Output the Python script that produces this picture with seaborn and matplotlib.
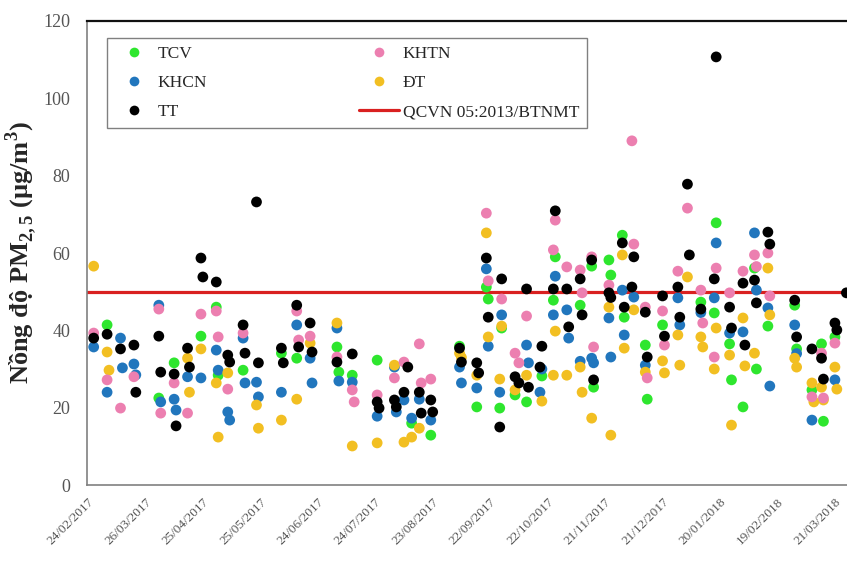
import numpy as np
import pandas as pd
import matplotlib
matplotlib.use("Agg")
import matplotlib.pyplot as plt
import matplotlib.dates as mdates
from matplotlib.lines import Line2D
import seaborn as sns

nan = np.nan

# PM2.5 by sampling day, one list per site (nan = no point that day)
dates = [
    "2017-02-27", "2017-03-06", "2017-03-07", "2017-03-13", "2017-03-14", "2017-03-20", "2017-03-21",
    "2017-04-02", "2017-04-03", "2017-04-10", "2017-04-11", "2017-04-17", "2017-04-18", "2017-04-24",
    "2017-04-25", "2017-05-02", "2017-05-03", "2017-05-08", "2017-05-09", "2017-05-16", "2017-05-17",
    "2017-05-23", "2017-05-24", "2017-06-05", "2017-06-06", "2017-06-13", "2017-06-14", "2017-06-20",
    "2017-06-21", "2017-07-04", "2017-07-05", "2017-07-12", "2017-07-13", "2017-07-25", "2017-07-26",
    "2017-08-03", "2017-08-04", "2017-08-08", "2017-08-10", "2017-08-12", "2017-08-16", "2017-08-17",
    "2017-08-22", "2017-08-23", "2017-09-06", "2017-09-07", "2017-09-15", "2017-09-16", "2017-09-20",
    "2017-09-21", "2017-09-27", "2017-09-28", "2017-10-05", "2017-10-07", "2017-10-11", "2017-10-12",
    "2017-10-18", "2017-10-19", "2017-10-25", "2017-10-26", "2017-11-01", "2017-11-02", "2017-11-08",
    "2017-11-09", "2017-11-14", "2017-11-15", "2017-11-23", "2017-11-24", "2017-11-30", "2017-12-01",
    "2017-12-05", "2017-12-06", "2017-12-12", "2017-12-13", "2017-12-21", "2017-12-22", "2017-12-29",
    "2017-12-30", "2018-01-03", "2018-01-04", "2018-01-10", "2018-01-11", "2018-01-17", "2018-01-18",
    "2018-01-25", "2018-01-26", "2018-02-01", "2018-02-02", "2018-02-07", "2018-02-08", "2018-02-14",
    "2018-02-15", "2018-02-28", "2018-03-01", "2018-03-09", "2018-03-10", "2018-03-14", "2018-03-15",
    "2018-03-21", "2018-03-22", "2018-03-27",
]
tcv = [
    nan, 41.4, nan, nan, nan, nan, nan,
    22.5, nan, 31.6, nan, nan, nan, 38.5,
    nan, 46.0, 28.4, nan, nan, 29.7, nan,
    nan, nan, 34.1, nan, 32.8, nan, nan,
    nan, 35.7, 29.2, 28.4, nan, 32.3, nan,
    nan, nan, nan, nan, 16.0, nan, nan,
    12.9, nan, 35.9, nan, 20.2, nan, 51.2,
    48.1, 19.9, 40.6, 23.3, nan, 21.5, nan,
    nan, 28.2, 47.8, 59.0, nan, nan, 46.5,
    nan, 56.6, 25.3, 58.2, 54.3, 64.6, 43.4,
    nan, nan, 36.2, 22.2, 41.4, nan, nan,
    nan, nan, nan, 47.3, nan, 44.5, 67.8,
    36.5, 27.2, 20.2, nan, 56.1, 30.0, 41.1,
    nan, 46.5, 35.2, 24.6, nan, 36.5, 16.5,
    38.3, nan, nan,
]
khcn = [
    35.7, 24.0, nan, 38.0, 30.3, 31.3, 28.5,
    46.5, 21.5, 22.2, 19.4, 28.0, nan, 27.7,
    nan, 34.9, 29.7, 18.9, 16.8, 38.0, 26.4,
    26.6, 22.8, 24.0, nan, 41.4, nan, 32.8,
    26.4, 40.6, 26.9, 26.6, nan, 17.8, nan,
    30.5, 18.9, 22.0, nan, 17.3, 22.2, nan,
    16.8, nan, 30.5, 26.4, 25.1, nan, 55.9,
    35.9, 24.0, 44.0, nan, nan, 36.2, 31.6,
    24.0, 30.0, 44.0, 54.0, 45.3, 38.0, 32.0,
    nan, 32.8, 31.6, 43.2, 33.1, 50.4, 38.8,
    nan, 48.6, 31.0, nan, nan, nan, 48.4,
    41.4, nan, nan, 44.6, nan, 48.4, 62.6,
    39.3, nan, 39.6, nan, 65.2, 50.4, 45.8,
    25.6, 41.4, 34.0, 16.8, nan, nan, nan,
    27.2, nan, nan,
]
tt = [
    38.0, 39.0, nan, 35.2, nan, 36.2, 24.0,
    38.5, 29.2, 28.7, 15.3, 35.4, 30.5, 58.7,
    53.8, 52.5, nan, 33.6, 31.8, 41.4, 34.1,
    73.2, 31.6, 35.4, 31.6, 46.5, 35.7, 41.9,
    34.4, 31.8, nan, 33.9, nan, 21.5, 19.9,
    22.0, 20.2, 24.0, 30.5, nan, 24.0, 18.6,
    22.0, 18.9, 35.4, 31.8, 31.6, 29.0, 58.7,
    43.4, 15.0, 53.3, 28.0, 26.4, 50.7, 25.3,
    30.5, 35.9, 50.7, 70.9, 50.7, 40.9, 53.3,
    44.0, 58.2, 27.2, 49.7, 48.5, 62.6, 46.0,
    51.2, 59.0, 44.7, 33.1, 48.9, 38.5, 51.2,
    43.4, 77.8, 59.5, 45.5, nan, 53.3, 110.7,
    46.0, 40.6, 52.2, 36.2, 53.0, 47.1, 65.4,
    62.3, 47.8, 38.3, 35.2, nan, 32.8, 27.4,
    41.9, 40.1, 49.7,
]
khtn = [
    39.3, 27.2, nan, 19.9, nan, 28.0, nan,
    45.5, 18.6, 26.4, nan, 18.6, nan, 44.2,
    nan, 45.0, 38.3, 24.8, nan, 39.3, nan,
    nan, nan, nan, nan, 45.0, 37.5, 38.5,
    nan, 33.1, nan, 24.6, 21.5, 23.3, nan,
    27.7, nan, 31.8, nan, nan, 36.5, 26.4,
    27.4, nan, nan, nan, nan, nan, 70.3,
    52.8, nan, 48.1, 34.1, 31.6, 43.7, nan,
    nan, nan, 60.8, 68.5, 56.4, nan, 55.6,
    49.7, 59.0, 35.7, 51.7, nan, nan, nan,
    89.0, 62.3, 46.0, 27.7, 45.0, 36.2, 55.3,
    nan, 71.6, nan, 50.4, 41.9, 33.1, 56.1,
    49.7, nan, 55.3, nan, 59.5, 56.5, 60.0,
    48.9, nan, nan, 22.8, nan, 34.1, 22.5,
    36.7, nan, nan,
]
dt = [
    56.6, 34.4, 29.7, nan, nan, nan, nan,
    nan, nan, nan, nan, 32.8, 24.0, 35.2,
    nan, 26.4, 12.4, 29.0, nan, nan, nan,
    20.7, 14.7, 16.8, nan, 22.2, nan, 36.7,
    nan, 41.9, nan, 10.1, nan, 10.9, nan,
    31.0, nan, 11.1, nan, 12.4, 14.7, nan,
    nan, nan, 34.1, 33.0, 28.4, nan, 65.2,
    38.3, 27.4, 41.1, 24.6, nan, 28.4, nan,
    nan, 21.7, 28.4, 39.8, 28.4, nan, 30.5,
    24.0, 17.3, nan, 46.0, 12.9, 59.5, 35.4,
    nan, 45.3, 29.2, nan, 32.1, 29.0, 38.8,
    31.0, 53.8, nan, 38.3, 35.7, 30.0, 40.6,
    33.6, 15.5, 43.2, 30.8, 34.1, nan, 56.1,
    44.0, 32.8, 30.5, 26.4, 21.5, 25.3, 22.0,
    30.5, 24.8, nan,
]
limit = 50
limit_label = "QCVN 05:2013/BTNMT"
tick_dates = pd.date_range("2017-02-24", periods=14, freq="30D")

sns.set_style("white")
plt.rcParams["font.family"] = ["Liberation Serif", "DejaVu Serif"]
plt.rcParams["mathtext.fontset"] = "custom"
plt.rcParams["mathtext.rm"] = "Liberation Serif"
plt.rcParams["mathtext.bf"] = "Liberation Serif:bold"

df = pd.DataFrame({"date": pd.to_datetime(dates), "TCV": tcv, "KHCN": khcn,
                   "TT": tt, "KHTN": khtn, "ĐT": dt})
# row order decides what sits on top: black last
long = df.melt(id_vars="date", value_vars=["TCV", "KHCN", "ĐT", "KHTN", "TT"],
               var_name="site", value_name="pm").dropna()

colors = {"TCV": "#2ee62e", "KHCN": "#2176bd", "TT": "#000000",
          "KHTN": "#ec7fb0", "ĐT": "#f2bf22"}
red = "#d92020"

fig = plt.figure(figsize=(8.47, 5.66), dpi=100)
ax = fig.add_axes([0.1027, 0.143, 0.9, 0.82])

ax.axhline(limit, color=red, lw=2.3, zorder=1.5)
sns.scatterplot(data=long, x="date", y="pm", hue="site", palette=colors,
                s=60, linewidth=0, legend=False, ax=ax, zorder=3)

start = pd.Timestamp("2017-02-23 12:00")
ax.set_xlim(start, start + pd.Timedelta(days=398))
ax.set_ylim(0, 120)
ax.set_yticks(range(0, 121, 20))
ax.set_xticks(tick_dates)
ax.xaxis.set_major_formatter(mdates.DateFormatter("%d/%m/%Y"))
plt.setp(ax.get_xticklabels(), rotation=45, ha="right", rotation_mode="anchor")
ax.tick_params(axis="x", length=0, pad=8, labelsize=9.5, labelcolor="#555555")
ax.tick_params(axis="y", length=0, pad=12, labelsize=13, labelcolor="#555555")

ax.set_xlabel("")
ax.set_ylabel(r"Nồng độ PM$_{\mathbf{2,5}}$ (µg/m$^{\mathbf{3}}$)",
              fontsize=19, fontweight="bold", labelpad=3)

for side in ["left", "bottom"]:
    ax.spines[side].set_color("#808080")
    ax.spines[side].set_linewidth(1.2)
ax.spines["top"].set_color("#111111")
ax.spines["top"].set_linewidth(1.6)
ax.spines["right"].set_visible(False)

def dot(name):
    return Line2D([], [], marker="o", ls="none", markersize=7,
                  markerfacecolor=colors[name], markeredgewidth=0, label=name)

handles = [dot("TCV"), dot("KHCN"), dot("TT"), dot("KHTN"), dot("ĐT"),
           Line2D([], [], color=red, lw=2.3, label=limit_label)]
leg = ax.legend(handles=handles, ncol=2, mode="expand", loc="upper left",
                bbox_to_anchor=(0.126, 0.77, 0.567, 0.163), bbox_transform=fig.transFigure,
                borderaxespad=0, fontsize=12.5, labelspacing=0.75, handlelength=2.3,
                handletextpad=0.2, borderpad=0.45, frameon=True, fancybox=False,
                framealpha=1)
leg.get_frame().set_edgecolor("#808080")
leg.get_frame().set_linewidth(1.0)

fig.savefig("out.png", dpi=100)
